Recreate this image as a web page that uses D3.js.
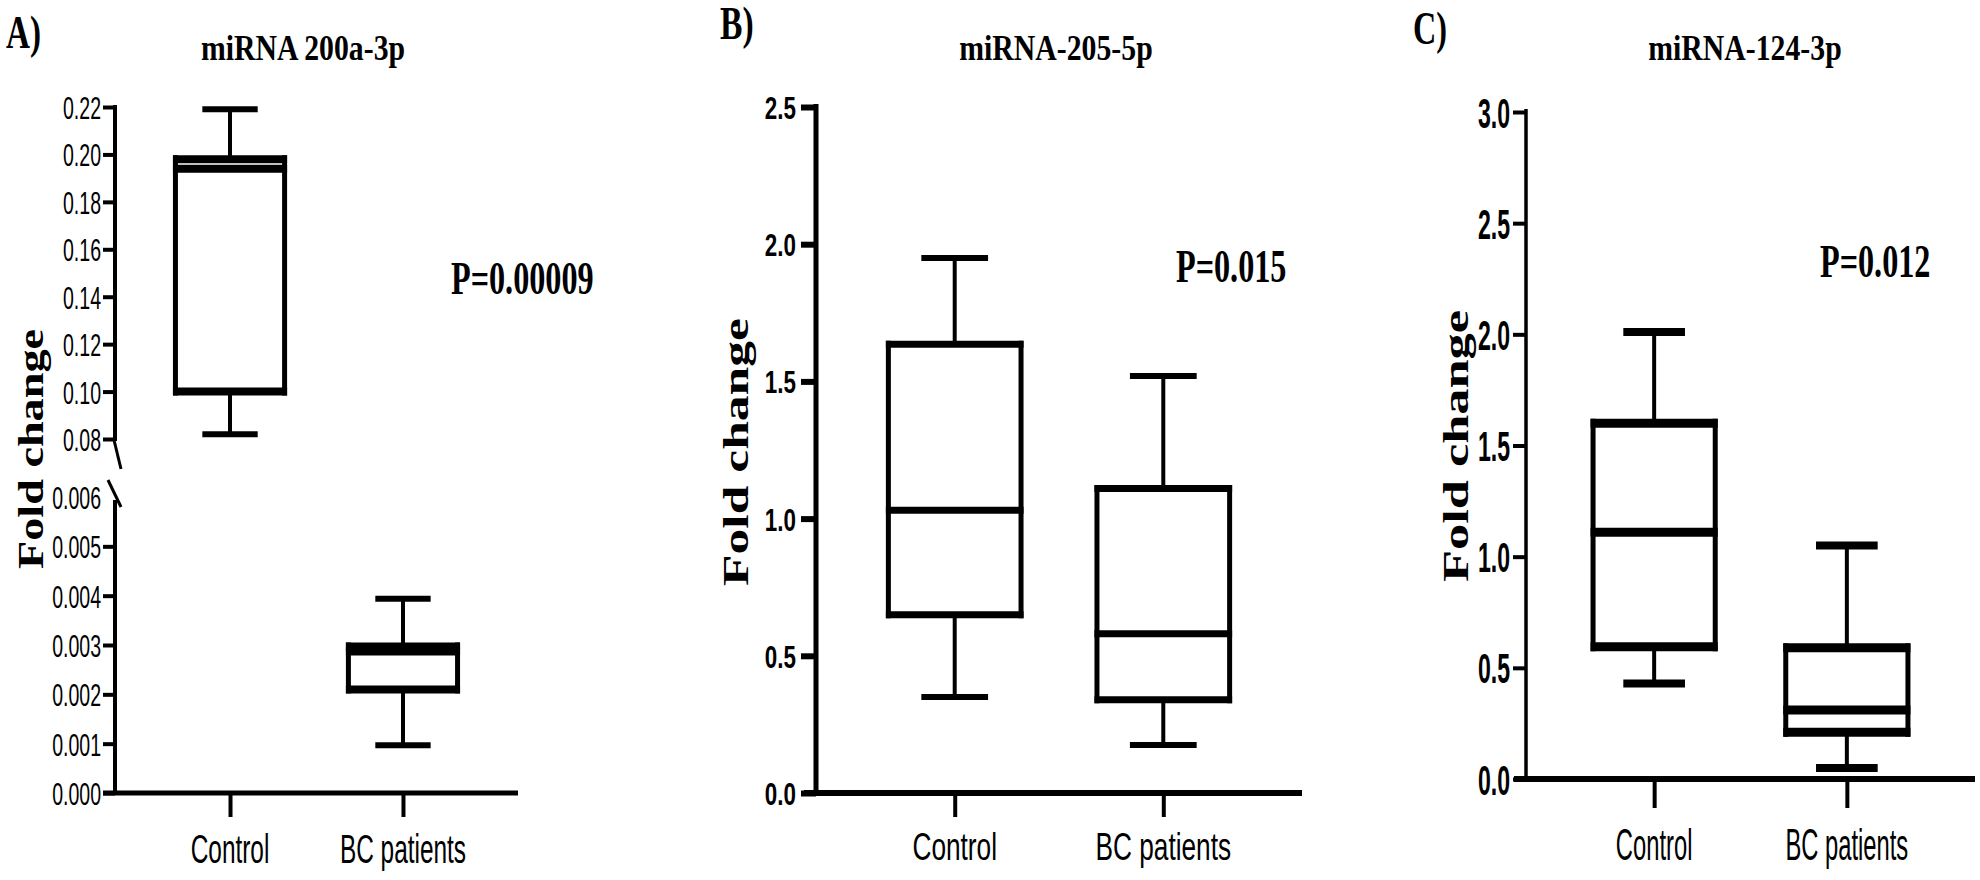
<!DOCTYPE html>
<html><head><meta charset="utf-8">
<script src="https://cdn.jsdelivr.net/npm/d3@7"></script>
<style>body{margin:0;background:#fff}</style>
</head><body><svg id="chart" width="1980" height="880"></svg>
<script>
// ---------------- DATA ----------------
const categories = ["Control", "BC patients"];
// Panel A: miRNA 200a-3p (five-number summaries per category)
const a_min    = [0.082, 0.00097];
const a_q1     = [0.100, 0.0021];
const a_median = [0.194, 0.00287];
const a_q3     = [0.198, 0.00297];
const a_max    = [0.219, 0.00394];
// Panel B: miRNA-205-5p
const b_min    = [0.35, 0.175];
const b_q1     = [0.65, 0.34];
const b_median = [1.03, 0.58];
const b_q3     = [1.635, 1.11];
const b_max    = [1.95, 1.52];
// Panel C: miRNA-124-3p
const c_min    = [0.43, 0.05];
const c_q1     = [0.595, 0.21];
const c_median = [1.11, 0.31];
const c_q3     = [1.60, 0.59];
const c_max    = [2.01, 1.05];

const titles = ["miRNA 200a-3p", "miRNA-205-5p", "miRNA-124-3p"];
const panelLetters = ["A)", "B)", "C)"];
const pValues = ["P=0.00009", "P=0.015", "P=0.012"];
const yAxisTitle = "Fold change";
const ticksAUpper = [0.08, 0.10, 0.12, 0.14, 0.16, 0.18, 0.20, 0.22];
const ticksALower = [0, 0.001, 0.002, 0.003, 0.004, 0.005, 0.006];
const ticksB = [0, 0.5, 1.0, 1.5, 2.0, 2.5];
const ticksC = [0, 0.5, 1.0, 1.5, 2.0, 2.5, 3.0];

// ---------------- DRAWING ----------------
const svg = d3.select("#chart");
svg.append("rect").attr("width", 1980).attr("height", 880).attr("fill", "#fff");
const SERIF = "'Liberation Serif','Times New Roman',serif";
const SANS = "'Liberation Sans',Arial,sans-serif";

// condense text horizontally by factor sx (keeps anchor position)
function squeeze(sel, sx) {
  sel.each(function () {
    const w = this.getComputedTextLength();
    d3.select(this).attr("textLength", w * sx).attr("lengthAdjust", "spacingAndGlyphs");
  });
}

function stxt(g, x, y, str, o) {
  const t = g.append("text")
    .attr("x", o.rot ? 0 : x).attr("y", o.rot ? 0 : y)
    .attr("text-anchor", o.anchor || "start")
    .attr("font-family", o.family)
    .attr("font-size", o.size)
    .attr("font-weight", o.weight || "normal")
    .attr("fill", "#000")
    .text(str);
  if (o.rot) t.attr("transform", `translate(${x},${y}) rotate(${o.rot})`);
  if (o.len) t.attr("textLength", o.len).attr("lengthAdjust", "spacingAndGlyphs");
  else if (o.sx) squeeze(t, o.sx);
  return t;
}

function stats(mn, q1, md, q3, mx) {
  return categories.map((c, i) => ({ cat: c, min: mn[i], q1: q1[i], median: md[i], q3: q3[i], max: mx[i] }));
}

const yAUpper = d3.scaleLinear().domain([0.08, 0.22]).range([439, 107]);
const yALower = d3.scaleLinear().domain([0, 0.006]).range([793, 497]);
const yB = d3.scaleLinear().domain([0, 2.5]).range([793, 107]);
const yC = d3.scaleLinear().domain([0, 3.0]).range([779, 112]);

const panels = [
  {
    data: stats(a_min, a_q1, a_median, a_q3, a_max),
    L: 115, R: 518, y0: 793,
    yFn: v => (v >= 0.05 ? yAUpper(v) : yALower(v)),
    axes: [
      { scale: yAUpper, ticks: ticksAUpper, fmt: d3.format(".2f") },
      { scale: yALower, ticks: ticksALower, fmt: d3.format(".3f"), hideTop: true }
    ],
    broken: true,
    tick: { len: 12, pad: 2, w: 4, size: 32, weight: "normal", sx: 0.61 },
    axisW: 4, xAxisW: 5, catTick: { len: 24, w: 4 },
    cat: { size: 40, sx: 0.61, y: 863 },
    box: { side: 5, h: 8, wh: 4, cap: 6 },
    letter: { x: 6, y: 48, sx: 0.72 },
    title: { x: 303, y: 60 },
    p: { x: 451, y: 294 },
    ylab: { x: 43, y: 449, len: 240 }
  },
  {
    data: stats(b_min, b_q1, b_median, b_q3, b_max),
    L: 816, R: 1302, y0: 793,
    yFn: yB,
    axes: [{ scale: yB, ticks: ticksB, fmt: d3.format(".1f") }],
    tick: { len: 15, pad: 5, w: 6, size: 32, weight: "bold", sx: 0.70 },
    axisW: 5, xAxisW: 6, catTick: { len: 24, w: 4 },
    cat: { size: 38, sx: 0.69, y: 860 },
    box: { side: 5, h: 7, wh: 4, cap: 6 },
    letter: { x: 720, y: 39, sx: 0.73 },
    title: { x: 1056, y: 60 },
    p: { x: 1176, y: 282 },
    ylab: { x: 748, y: 452, len: 268 }
  },
  {
    data: stats(c_min, c_q1, c_median, c_q3, c_max),
    L: 1526, R: 1975, y0: 779,
    yFn: yC,
    axes: [{ scale: yC, ticks: ticksC, fmt: d3.format(".1f") }],
    tick: { len: 13, pad: 3, w: 4, size: 42, weight: "bold", sx: 0.55 },
    axisW: 3.5, xAxisW: 6, catTick: { len: 29, w: 4 },
    cat: { size: 44, sx: 0.54, y: 860 },
    box: { side: 5, h: 9, wh: 4, cap: 8 },
    letter: { x: 1413, y: 44, sx: 0.70 },
    title: { x: 1745, y: 60 },
    p: { x: 1820, y: 277 },
    ylab: { x: 1468, y: 446, len: 272 }
  }
];

panels.forEach((P, pi) => {
  const g = svg.append("g");
  const x = d3.scalePoint().domain(categories).range([P.L, P.R]).padding(0.665);
  const step = x.step();
  const y = P.yFn;

  // y axes (ticks + labels)
  P.axes.forEach(ax => {
    const ag = g.append("g").attr("transform", `translate(${P.L},0)`)
      .call(d3.axisLeft(ax.scale).tickValues(ax.ticks).tickFormat(ax.fmt)
        .tickSize(P.tick.len).tickPadding(P.tick.pad).tickSizeOuter(0));
    ag.select(".domain").remove();
    ag.selectAll(".tick line").attr("stroke", "#000").attr("stroke-width", P.tick.w);
    if (ax.hideTop) {
      const top = ax.ticks[ax.ticks.length - 1];
      ag.selectAll(".tick").filter(d => d === top).select("line").remove();
    }
    const tt = ag.selectAll(".tick text")
      .attr("dy", "0.36em")
      .attr("font-family", SANS).attr("font-size", P.tick.size)
      .attr("font-weight", P.tick.weight).attr("fill", "#000")
      .attr("text-anchor", "end");
    squeeze(tt, P.tick.sx);
  });

  const line = (x1, y1, x2, y2, w) => g.append("line")
    .attr("x1", x1).attr("y1", y1).attr("x2", x2).attr("y2", y2)
    .attr("stroke", "#000").attr("stroke-width", w);

  // y axis line (with break for panel A)
  if (P.broken) {
    const ut = yAUpper(0.22), ub = yAUpper(0.08), lt = yALower(0.006), lb = yALower(0);
    line(P.L, ut - 2, P.L, ub + 2, P.axisW);
    line(P.L - 1, ub + 1, P.L + 6, ub + 30, 3);
    line(P.L - 7, lt - 17, P.L + 6, lt + 10, 3);
    line(P.L, lt + 3, P.L, lb, P.axisW);
  } else {
    const sc = P.axes[0].scale;
    const d = sc.domain();
    line(P.L, sc(d[1]) - 3, P.L, sc(d[0]), P.axisW);
  }

  // x axis
  line(P.L - 12, P.y0, P.R, P.y0, P.xAxisW);
  const xg = g.append("g").attr("transform", `translate(0,${P.y0})`)
    .call(d3.axisBottom(x).tickSize(P.catTick.len).tickSizeOuter(0).tickFormat(""));
  xg.select(".domain").remove();
  xg.selectAll(".tick line").attr("stroke", "#000").attr("stroke-width", P.catTick.w);
  categories.forEach(c => stxt(g, x(c), P.cat.y, c, { family: SANS, size: P.cat.size, sx: P.cat.sx, anchor: "middle" }));

  // boxes
  const bw = step * 0.66, cw = step * 0.32, B = P.box;
  P.data.forEach(d => {
    const cx = x(d.cat);
    line(cx, y(d.max), cx, y(d.q3), B.wh);
    line(cx, y(d.q1), cx, y(d.min), B.wh);
    line(cx - cw / 2, y(d.max), cx + cw / 2, y(d.max), B.cap);
    line(cx - cw / 2, y(d.min), cx + cw / 2, y(d.min), B.cap);
    g.append("rect").attr("x", cx - bw / 2 + B.side / 2).attr("y", y(d.q3))
      .attr("width", bw - B.side).attr("height", y(d.q1) - y(d.q3))
      .attr("fill", "#fff").attr("stroke", "none");
    line(cx - bw / 2 + B.side / 2, y(d.q3) - B.h / 2, cx - bw / 2 + B.side / 2, y(d.q1) + B.h / 2, B.side);
    line(cx + bw / 2 - B.side / 2, y(d.q3) - B.h / 2, cx + bw / 2 - B.side / 2, y(d.q1) + B.h / 2, B.side);
    line(cx - bw / 2, y(d.q3), cx + bw / 2, y(d.q3), B.h);
    line(cx - bw / 2, y(d.q1), cx + bw / 2, y(d.q1), B.h);
    line(cx - bw / 2, y(d.median), cx + bw / 2, y(d.median), B.h);
  });

  // texts
  stxt(g, P.letter.x, P.letter.y, panelLetters[pi], { family: SERIF, size: 46, weight: "bold", sx: P.letter.sx });
  stxt(g, P.title.x, P.title.y, titles[pi], { family: SERIF, size: 35, weight: "bold", sx: 0.85, anchor: "middle" });
  stxt(g, P.p.x, P.p.y, pValues[pi], { family: SERIF, size: 46, weight: "bold", sx: 0.70 });
  stxt(g, P.ylab.x, P.ylab.y, yAxisTitle, { family: SERIF, size: 36, weight: "bold", rot: -90, anchor: "middle", len: P.ylab.len });
});
</script>
</body></html>
